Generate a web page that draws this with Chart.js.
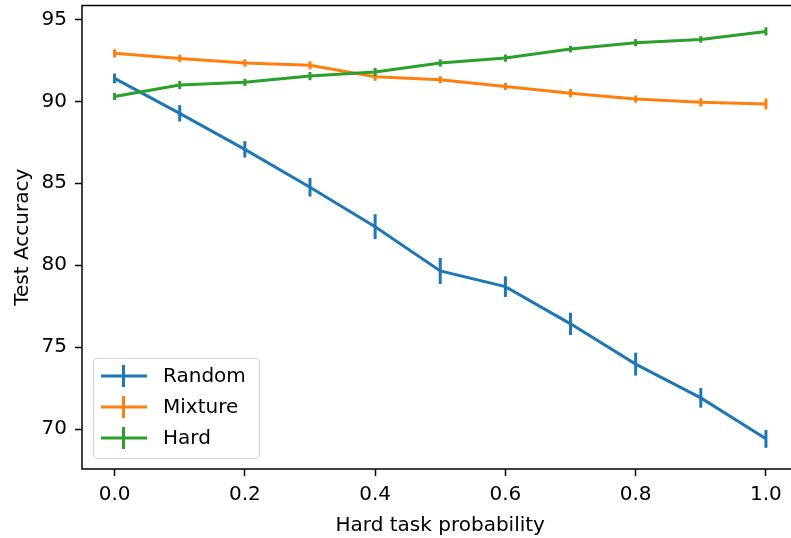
<!DOCTYPE html>
<html>
<head>
<meta charset="utf-8">
<script src="https://cdn.jsdelivr.net/npm/chart.js@4"></script>
<style>
  html, body { margin: 0; padding: 0; background: #fff; overflow: hidden; }
  #wrap { width: 800px; height: 538px; }
</style>
</head>
<body>
<div id="wrap"><canvas id="chart" width="800" height="538"></canvas></div>
<script>
// x positions (hard task probability)
const probs = [0.0, 0.1, 0.2, 0.3, 0.4, 0.5, 0.6, 0.7, 0.8, 0.9, 1.0];

// mean accuracy and error (half length of bar) per series
const randomMean = [91.4, 89.27, 87.07, 84.76, 82.35, 79.65, 78.69, 76.42, 73.96, 71.9, 69.4];
const randomErr = [0.3, 0.5, 0.5, 0.57, 0.76, 0.8, 0.63, 0.68, 0.7, 0.6, 0.55];

const mixtureMean = [92.93, 92.62, 92.34, 92.2, 91.5, 91.32, 90.91, 90.5, 90.14, 89.94, 89.84];
const mixtureErr = [0.25, 0.22, 0.22, 0.25, 0.25, 0.22, 0.22, 0.25, 0.22, 0.25, 0.33];

const hardMean = [90.3, 91.0, 91.16, 91.54, 91.79, 92.34, 92.64, 93.19, 93.58, 93.78, 94.27];
const hardErr = [0.22, 0.25, 0.22, 0.25, 0.25, 0.22, 0.22, 0.2, 0.22, 0.2, 0.25];

const xTicks = [0.0, 0.2, 0.4, 0.6, 0.8, 1.0];
const yTicks = [70, 75, 80, 85, 90, 95];

const FONT = "'DejaVu Sans', sans-serif";
const FS = 20;
const LW = 3;
const blue = '#1f77b4', orange = '#ff7f0e', green = '#2ca02c';

function toPoints(means) {
    return probs.map((p, i) => ({ x: p, y: means[i] }));
}

const errs = [randomErr, mixtureErr, hardErr];
const means = [randomMean, mixtureMean, hardMean];

// vertical error bars, drawn together with each line so stacking matches
const errorBars = {
    id: 'errorBars',
    afterDatasetDraw(chart, args) {
        const ctx = chart.ctx;
        const ds = chart.data.datasets[args.index];
        const xs = chart.scales.x, ys = chart.scales.y;
        ctx.save();
        ctx.strokeStyle = ds.borderColor;
        ctx.lineWidth = LW;
        probs.forEach((p, i) => {
            const m = means[args.index][i], e = errs[args.index][i];
            const px = xs.getPixelForValue(p);
            ctx.beginPath();
            ctx.moveTo(px, ys.getPixelForValue(m - e));
            ctx.lineTo(px, ys.getPixelForValue(m + e));
            ctx.stroke();
        });
        ctx.restore();
    }
};

// frame around the plot + legend box in the lower left
const frameAndLegend = {
    id: 'frameAndLegend',
    afterDraw(chart) {
        const ctx = chart.ctx;
        const a = chart.chartArea;
        ctx.save();
        ctx.strokeStyle = '#000';
        ctx.lineWidth = 1.5;
        ctx.strokeRect(a.left, a.top, a.right - a.left, a.bottom - a.top);

        // legend
        const bx = 93.5, by = 358.5, bw = 166, bh = 100, r = 4;
        ctx.beginPath();
        ctx.moveTo(bx + r, by);
        ctx.arcTo(bx + bw, by, bx + bw, by + bh, r);
        ctx.arcTo(bx + bw, by + bh, bx, by + bh, r);
        ctx.arcTo(bx, by + bh, bx, by, r);
        ctx.arcTo(bx, by, bx + bw, by, r);
        ctx.closePath();
        ctx.fillStyle = 'rgba(255,255,255,0.8)';
        ctx.fill();
        ctx.strokeStyle = '#d6d6d6';
        ctx.lineWidth = 1.2;
        ctx.stroke();

        const names = chart.data.datasets.map(d => d.label);
        const rows = [376, 407, 438];
        ctx.font = FS + 'px ' + FONT;
        ctx.textBaseline = 'middle';
        names.forEach((n, i) => {
            const c = chart.data.datasets[i].borderColor;
            ctx.strokeStyle = c;
            ctx.lineWidth = LW;
            ctx.beginPath();
            ctx.moveTo(101, rows[i]);
            ctx.lineTo(147, rows[i]);
            ctx.moveTo(123.5, rows[i] - 11);
            ctx.lineTo(123.5, rows[i] + 11);
            ctx.stroke();
            ctx.fillStyle = '#000';
            ctx.fillText(n, 163, rows[i] + 1);
        });
        ctx.restore();
    }
};

new Chart(document.getElementById('chart'), {
    type: 'line',
    data: {
        datasets: [
            { label: 'Random', data: toPoints(randomMean), borderColor: blue, order: 2 },
            { label: 'Mixture', data: toPoints(mixtureMean), borderColor: orange, order: 1 },
            { label: 'Hard', data: toPoints(hardMean), borderColor: green, order: 0 }
        ]
    },
    options: {
        responsive: false,
        animation: false,
        devicePixelRatio: 1,
        layout: { padding: { top: 5.5, right: 1.5, left: 0, bottom: 0 } },
        elements: {
            line: { borderWidth: LW, tension: 0 },
            point: { radius: 0 }
        },
        plugins: { legend: { display: false }, tooltip: { enabled: false } },
        scales: {
            x: {
                type: 'linear',
                min: -0.05,
                max: 1.05,
                afterBuildTicks: s => { s.ticks = xTicks.map(v => ({ value: v })); },
                afterFit: s => { s.height = 69; s.paddingLeft = 0; s.paddingRight = 0; },
                ticks: {
                    color: '#000',
                    font: { family: FONT, size: FS },
                    padding: 7,
                    callback: v => v.toFixed(1)
                },
                grid: { drawOnChartArea: false, drawTicks: true, tickLength: 7, color: '#000', tickWidth: 1.5 },
                border: { display: false },
                title: {
                    display: true,
                    text: 'Hard task probability',
                    color: '#000',
                    font: { family: FONT, size: FS },
                    padding: { top: 4, bottom: 0 }
                }
            },
            y: {
                type: 'linear',
                min: 67.56,
                max: 95.85,
                afterBuildTicks: s => { s.ticks = yTicks.map(v => ({ value: v })); },
                afterFit: s => { s.width = 82; s.paddingTop = 0; s.paddingBottom = 0; },
                ticks: {
                    color: '#000',
                    font: { family: FONT, size: FS },
                    padding: 8
                },
                grid: { drawOnChartArea: false, drawTicks: true, tickLength: 7, color: '#000', tickWidth: 1.5 },
                border: { display: false },
                title: {
                    display: true,
                    text: 'Test Accuracy',
                    color: '#000',
                    font: { family: FONT, size: FS },
                    padding: { top: 11, bottom: 0 }
                }
            }
        }
    },
    plugins: [errorBars, frameAndLegend]
});
</script>
</body>
</html>
